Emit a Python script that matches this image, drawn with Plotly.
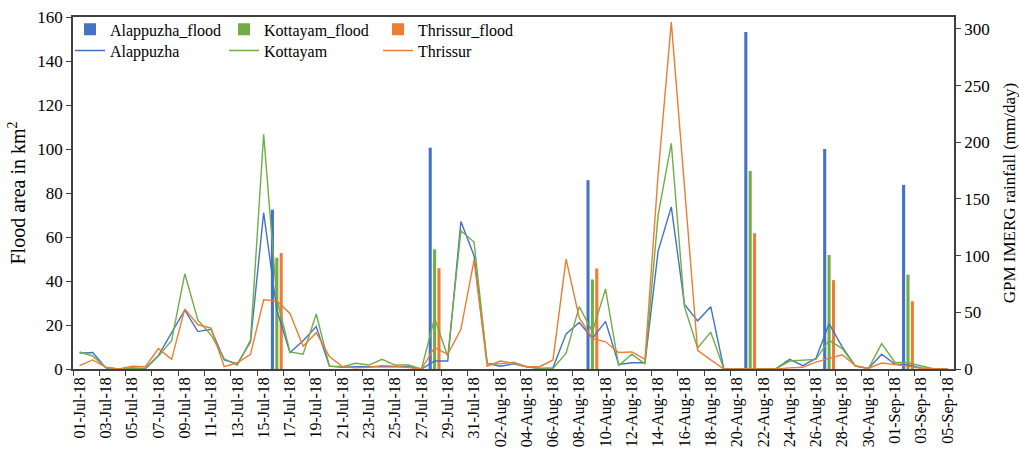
import plotly.graph_objects as go
import pandas as pd

dates = pd.date_range("2018-07-01", "2018-09-05", freq="D").strftime("%d-%b-%y").tolist()

flood_dates = ["16-Jul-18", "28-Jul-18", "09-Aug-18", "21-Aug-18", "27-Aug-18", "02-Sep-18"]
alappuzha_flood = [72.4, 100.6, 85.8, 153.2, 100.0, 83.7]
kottayam_flood = [50.6, 54.4, 40.7, 90.0, 51.8, 42.9]
thrissur_flood = [52.7, 45.8, 45.7, 61.7, 40.4, 30.8]

alappuzha_rain = [14, 14.5, 1, 0, 1, 0.5, 12, 32.5, 52, 33,
                  35, 8, 4.5, 24, 138, 52, 14.5, 25, 37.5, 2.5,
                  1.5, 2, 2, 2, 2, 2, 0, 7, 7, 130,
                  100, 5, 2.5, 4.5, 2, 0.5, 1, 31, 41, 27,
                  42, 4, 5.5, 5.5, 104, 143, 57, 42.5, 55, 0,
                  0, 0, 0, 0.5, 8.5, 3, 9.3, 40, 19.5, 2.5,
                  0.5, 13, 4.4, 3.5, 1, 0, 0]
kottayam_rain = [15, 11.5, 1, 0, 0.5, 0, 11.5, 25, 84, 43,
                 30, 9, 3.5, 25.5, 207, 62, 15, 13, 48.5, 2.5,
                 2, 5, 3.5, 8.5, 3.5, 3.5, 0, 45, 11, 122,
                 112, 5, 4.5, 6, 2, 0.5, 0.5, 14, 55, 33,
                 70.5, 3, 13, 4.5, 136, 199, 55, 18.5, 32.5, 0,
                 0, 0, 0.5, 0.5, 7, 7.5, 8.5, 25.4, 18, 2.5,
                 0.5, 22.4, 6, 5.5, 2.5, 0, 0]
thrissur_rain = [3, 8, 1.5, 0, 2.5, 2, 18, 8.5, 53, 39,
                 36, 2, 5.5, 13, 61, 60, 49, 20, 32, 11,
                 2, 1, 1.5, 3, 2.5, 1, 0, 19, 13, 35,
                 96, 2.5, 7, 5, 2, 2, 8, 97, 45, 27,
                 24, 14.5, 15, 8.5, 172, 306, 160, 16.5, 8, 0,
                 0, 0, 0, 0, 1, 1.5, 6, 9, 12.5, 3,
                 0.5, 5.3, 4, 2.5, 0.5, 0, 0]

BLUE = "#4472C4"
GREEN = "#70AD47"
ORANGE = "#ED7D31"
FONT = "Liberation Serif"

fig = go.Figure()
for name, vals, col in [("Alappuzha_flood", alappuzha_flood, BLUE),
                        ("Kottayam_flood", kottayam_flood, GREEN),
                        ("Thrissur_flood", thrissur_flood, ORANGE)]:
    fig.add_trace(go.Bar(x=flood_dates, y=vals, name=name, marker_color=col,
                         marker_line_width=0, legend="legend"))
for name, vals, col in [("Alappuzha", alappuzha_rain, BLUE),
                        ("Kottayam", kottayam_rain, GREEN),
                        ("Thrissur", thrissur_rain, ORANGE)]:
    fig.add_trace(go.Scatter(x=dates, y=vals, name=name, mode="lines",
                             line=dict(color=col, width=1.4), yaxis="y2",
                             legend="legend2"))

axis_col = "#404040"
fig.update_layout(
    width=1019, height=453,
    margin=dict(l=73, r=65, t=14, b=84),
    paper_bgcolor="white", plot_bgcolor="white",
    font=dict(family=FONT, size=17, color="black"),
    barmode="group", bargap=0, bargroupgap=0.3,
    showlegend=True,
    xaxis=dict(type="category", categoryorder="array", categoryarray=dates,
               range=[-0.5, len(dates) - 0.5], automargin=False,
               tickmode="linear", tick0=0, dtick=2, tickson="boundaries",
               tickangle=-90, ticks="outside", ticklen=5, tickcolor=axis_col,
               showline=True, linecolor=axis_col, linewidth=1.5, mirror=True,
               showgrid=False, tickfont=dict(size=16)),
    yaxis=dict(range=[0, 160], dtick=20, ticks="outside", ticklen=5, automargin=False,
               tickcolor=axis_col, showline=True, linecolor=axis_col, linewidth=1.5,
               showgrid=False, zeroline=False,
               title=dict(text="Flood area in km<sup>2</sup>", font=dict(size=20), standoff=6)),
    yaxis2=dict(overlaying="y", side="right", range=[0, 310.5], automargin=False,
                tickvals=[0, 50, 100, 150, 200, 250, 300], ticks="outside", ticklen=5,
                tickcolor=axis_col, showline=True, linecolor=axis_col, linewidth=1.5,
                showgrid=False, zeroline=False,
                title=dict(text="GPM IMERG rainfall (mm/day)", font=dict(size=17), standoff=16)),
    legend=dict(orientation="h", x=-0.0034, xanchor="left", y=1.013, yanchor="top",
                entrywidth=109, entrywidthmode="pixels", bgcolor="rgba(0,0,0,0)",
                font=dict(size=16), traceorder="normal"),
    legend2=dict(orientation="h", x=-0.0034, xanchor="left", y=0.953, yanchor="top",
                 entrywidth=109, entrywidthmode="pixels", bgcolor="rgba(0,0,0,0)",
                 font=dict(size=16), traceorder="normal"),
)

fig.write_html("out.html")
